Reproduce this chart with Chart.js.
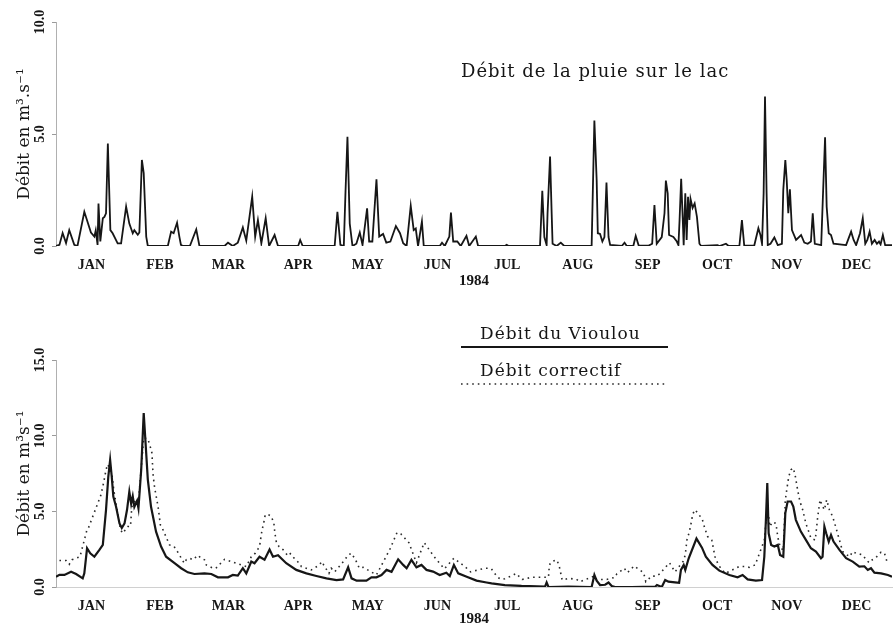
<!DOCTYPE html>
<html><head><meta charset="utf-8">
<script src="https://cdn.jsdelivr.net/npm/chart.js@4.4.1/dist/chart.umd.min.js"></script>
<style>
html,body{margin:0;padding:0;background:#fff;}
#wrap{position:relative;width:894px;height:628px;overflow:hidden;}
.box{position:absolute;left:0;width:894px;}
</style></head><body>
<div id="wrap">
<div class="box" style="top:0;height:300px"><canvas id="topChart" width="894" height="300"></canvas></div>
<div class="box" style="top:300px;height:328px"><canvas id="botChart" width="894" height="328"></canvas></div>
</div>
<script>
// ---------- DATA ----------
const yearLabel = '1984';
const monthNames = ['JAN','FEB','MAR','APR','MAY','JUN','JUL','AUG','SEP','OCT','NOV','DEC'];
const monthLengths = [31,29,31,30,31,30,31,31,30,31,30,31];

const topTitle = 'Débit de la pluie sur le lac';
const topYTitle = 'Débit en m³.s⁻¹';
const topYTicks = [0, 5, 10];
const topYTickLabels = ['0.0', '5.0', '10.0'];

const botYTitle = 'Débit en m³s⁻¹';
const botYTicks = [0, 5, 10, 15];
const botYTickLabels = ['0.0', '5.0', '10.0', '15.0'];

const rainLabel = 'Débit de la pluie sur le lac';
const rainDays = [0,1.5,2.9,4.4,5.8,8,9.4,12.4,15.3,16.8,17.4,18.2,18.6,19.4,20.5,21.2,21.9,22.7,23.8,24.8,27,28.5,30.7,32.1,33.6,34.3,35.8,36.5,37.6,38.4,39.5,40.2,45,49,50.4,51.5,53,54,54.7,55.5,58.6,61.4,62.8,73.8,75.3,77.4,79.6,81.8,83.3,85.9,87.2,88.4,89.9,91.8,93.3,95.7,97.2,106,106.9,108,122,123.2,124.5,126,126.7,127.6,128.6,129.8,131.5,133,134.2,136.2,137.1,138.5,140.3,141.5,143.2,144.6,146.4,148.8,150.6,152,153.5,155.3,156.6,157.5,158.5,160.2,161,168,169,170.2,172.2,172.9,173.9,175.7,177.2,179.7,180.9,183.8,184.8,196.5,197.3,198.2,211.9,212.9,213.8,214.8,215.2,216.3,217,217.4,219.2,221,222.5,234.5,235.7,236.7,237.2,238.2,239.2,240.1,241,241.9,242.6,247.7,248.9,249.9,252.8,253.8,255.1,259.5,261,262,263,265.2,266.4,267,267.8,268.4,270.3,271.8,272.5,273,273.7,274.4,274.8,275.5,276.1,276.7,277.3,277.8,278.7,279.6,280.6,281.7,282.5,289.6,290.5,293.3,294.5,299.2,300.3,301.3,305.7,307.5,308.4,309.1,309.8,310.4,311.1,311.6,312.8,314.5,316,317.8,318.4,319.3,319.9,320.6,321.3,322.2,324,326.2,327.6,329.1,330.5,331.3,332.2,335,335.7,336.7,337.4,338.3,339.3,340.4,345.9,348.1,349.2,350.3,352,353.2,354.3,355.2,356.2,357.2,358.4,359.4,360.3,361,362,363,366];
const rainValues = [0,0.05,0.58,0.13,0.71,0.05,0,1.53,0.6,0.42,0.7,0.05,1.9,0.2,1.24,1.3,1.46,4.58,0.71,0.57,0.12,0.12,1.76,1.0,0.57,0.71,0.5,0.6,3.84,3.25,0.42,0,0,0.02,0.64,0.57,1.04,0.42,0.05,0,0,0.74,0,0,0.15,0,0.15,0.83,0.24,2.2,0.42,1.16,0.12,1.24,0,0.49,0,0,0.27,0,0,1.53,0.05,0,2.28,4.88,1.0,0,0.1,0.6,0.05,1.68,0.2,0.2,2.98,0.42,0.54,0.15,0.2,0.89,0.57,0.12,0,1.79,0.71,0.78,0,1.09,0,0,0.15,0,0.42,1.49,0.2,0.2,0,0.45,0,0.42,0,0,0.05,0,0,2.47,0.4,0.04,1.46,3.99,1.46,0.1,0,0.15,0,0,5.6,2.95,0.57,0.54,0.2,0.4,2.83,0.4,0.05,0,0.15,0,0.02,0.45,0.02,0.02,0.1,1.83,0.1,0.4,1.46,2.92,2.35,0.49,0.4,0.2,0.04,1.16,3.0,1.16,0.04,2.35,0.27,2.2,1.16,2.1,1.7,1.9,1.3,0.1,0,0.04,0,0.1,0,0.02,1.16,0.02,0.02,0.79,0.49,0.1,2.35,6.67,2.35,0.04,0.1,0.38,0.04,0.1,2.5,3.84,2.95,1.46,2.53,0.71,0.27,0.49,0.15,0.1,0.2,1.46,0.1,0.04,2.05,4.85,1.75,0.57,0.49,0.1,0.04,0.64,0.27,0.04,0.57,1.24,0.1,0.27,0.64,0.1,0.27,0.1,0.2,0.07,0.49,0.04,0.04];

const vioulouLabel = 'Débit du Vioulou';
const vioulouDays = [0,1.5,3.7,6.6,8.8,11.7,12.4,13.6,15,16.8,19,20.5,21.9,22.9,23.7,24.4,25.1,26.3,27.8,28.8,30,31.1,32.1,32.9,33.6,34.3,35.5,36.1,37.3,38.4,39.3,40.2,41.6,43.8,46,48.2,51.9,54.8,57.7,60.6,65,68,70.9,75.3,77.4,79.6,81.8,83.3,85.5,86.9,89.1,91.3,93.5,95,97.2,100.8,105.2,109.6,114,118.4,122.8,125.7,127.9,129.4,131.6,135.9,138.1,140.3,142.5,144.7,146.9,149.8,152,153.5,155.6,157.8,160,162.2,165.1,168,170.9,172.4,174.2,176.1,179.8,184.1,188.5,190.7,196.5,203.8,214.1,214.8,215.6,224.3,234.5,235.7,236.7,238.2,240.4,241.9,243.3,244.8,252,262.3,263.1,265.2,266.7,268.1,271,272.8,273.6,274.8,275.5,277,280.4,282.8,284.5,287.4,290.4,294.8,298.4,300.6,302.8,306.4,309.1,310.1,310.8,311.4,312,313.1,314.5,316,317,318.4,319.3,320.3,321.8,322.8,323.9,326.1,328.3,330.5,332.7,334.9,335.6,336.4,337.2,338.3,339.3,340.4,343,345.9,348.8,351.7,353.9,355.4,356.8,358.3,361.2,364.2,366];
const vioulouValues = [0.68,0.8,0.8,1.01,0.86,0.57,0.9,2.56,2.23,2.0,2.45,2.78,5.1,7.3,8.4,7.3,5.98,5.3,4.2,3.9,4.2,5.1,6.3,5.5,6.0,5.3,5.7,5.2,7.75,11.5,9.3,7.1,5.3,3.66,2.67,2.0,1.57,1.24,0.97,0.86,0.9,0.86,0.64,0.64,0.8,0.75,1.24,0.9,1.68,1.57,2.0,1.8,2.48,2.0,2.1,1.57,1.13,0.9,0.73,0.57,0.46,0.5,1.3,0.57,0.42,0.42,0.64,0.64,0.79,1.13,1.0,1.83,1.46,1.24,1.79,1.3,1.46,1.13,1.02,0.79,0.94,0.73,1.46,0.9,0.68,0.42,0.3,0.24,0.13,0.07,0.02,0.3,0,0.02,0,0.8,0.42,0.13,0.15,0.3,0.07,0,0,0.02,0.13,0,0.46,0.35,0.3,0.27,1.13,1.46,1.13,1.9,3.2,2.6,2.0,1.46,1.08,0.79,0.64,0.79,0.5,0.42,0.46,2.0,4.44,6.87,3.55,2.78,2.67,2.78,2.12,2.0,4.88,5.65,5.65,5.32,4.44,3.66,3.11,2.56,2.34,1.9,2.0,4.0,3.55,3.0,3.44,3.0,2.45,1.9,1.68,1.35,1.37,1.13,1.24,0.95,0.9,0.79,0.68];

const correctifLabel = 'Débit correctif';
const correctifDays = [1.5,4.4,5.8,7,10.5,13.6,14.2,19.7,21,21.6,22.5,23.8,24.6,25.3,26.3,28.2,29.2,31.4,32.6,33.2,35.1,36.1,38.4,40.2,41.4,42,42.5,43.2,44.1,44.7,45.7,46.5,49.7,51.6,54.1,55.1,56.3,57,58.5,60,62.1,63.6,65,65.8,68.7,70,73.8,83.3,85.5,87.3,89.1,90.2,90.9,91.6,92.8,94.3,95.4,95.8,96.5,97.7,99.5,101.6,102.6,105.2,106.7,107.4,111.8,114.7,116.6,117.2,119.5,120.5,122,126.4,127.9,129.4,131.3,132.8,134.5,140.3,146.4,149.3,151,154.5,157.8,161.2,165.1,166.1,170,174.2,179,181.5,184,187.8,189.1,190.6,193.3,195,196.5,200.2,201.4,204.1,208.2,212.6,215.6,216,217,219.2,220.2,221.6,224.6,227.9,229.4,235.7,236.7,239.2,241.1,244.8,245.5,247.6,248.8,250.2,251.4,253.1,257.2,257.9,258.2,260.8,263,264.5,266,268.6,271,273.3,274.5,275.5,276.2,277.3,278.2,278.7,279.6,281,283,284,285.3,287.1,288.5,290,291.1,293,299.1,301.3,303.5,306.1,310.1,311.5,312.5,313.7,315.2,316,317,318.4,319.3,319.9,320.8,321.8,322.8,323.7,324.7,325.7,326.9,328.3,329.8,330.5,332.4,333.5,334.5,335.4,336.4,337.4,338.6,340,341.5,343,344.4,347.4,348.8,350.3,353.2,354.7,356.1,357.3,358.7,361.2,362.7,363.8];
const correctifValues = [1.75,1.75,1.5,1.8,2.0,3.8,3.9,6.1,7.0,7.5,8.1,7.8,7.3,6.4,5.5,3.8,3.55,4.0,4.0,5.3,5.8,5.6,9.85,9.8,9.2,8.85,7.4,6.55,5.8,5.3,4.1,3.9,2.78,2.7,2.12,1.8,1.57,1.8,1.9,1.8,2.1,1.9,1.8,1.46,1.24,1.24,1.83,1.35,2.0,2.24,2.67,3.77,4.2,4.77,4.8,4.66,4.2,3.6,2.93,2.66,2.45,2.05,2.2,1.74,1.57,1.35,1.13,1.4,1.68,1.45,0.9,1.24,1.0,1.79,2.12,2.23,1.74,1.24,1.3,0.8,2.56,3.6,3.5,2.93,1.6,2.93,2.1,1.9,1.2,1.9,1.35,1.0,1.1,1.24,1.24,1.2,0.64,0.5,0.55,0.79,0.9,0.5,0.64,0.64,0.64,1.46,1.68,1.79,1.46,0.46,0.57,0.5,0.35,0.72,0.5,0.5,0.5,0.64,0.86,1.1,1.24,0.95,1.13,1.39,0.95,0.57,0.35,0.72,0.72,0.9,1.17,1.6,1.0,1.46,1.68,2.12,3.1,3.66,4.33,4.77,5.1,4.9,4.44,3.9,3.33,3.1,2.0,1.46,1.24,0.9,1.35,1.35,1.3,1.46,3.1,5.32,3.99,4.3,4.2,3.3,2.67,2.4,5.76,6.4,7.3,7.75,7.86,7.3,6.4,5.65,5.1,4.2,3.55,3.22,3.1,4.66,5.76,5.4,5.1,5.76,5.1,4.66,3.9,3.1,2.34,2.0,2.34,2.23,2.12,1.79,1.6,1.79,1.9,2.3,2.23,1.68];

// ---------- helpers ----------
const monthMid = [];
(function(){ let acc = 0; for (const L of monthLengths) { monthMid.push(acc + L / 2); acc += L; } })();
const yearEnd = monthLengths.reduce((a, b) => a + b, 0);
const toXY = (xs, ys) => xs.map((x, i) => ({x: x, y: ys[i]}));

const INK = '#161616';
const SERIF = '"Liberation Serif", "DejaVu Serif", serif';
const TEXTSERIF = '"DejaVu Serif", "Liberation Serif", serif';

function xScaleCfg(h, tickPad, titlePad, showBorder) {
  return {
    type: 'linear', min: 0, max: yearEnd,
    afterBuildTicks: s => { s.ticks = monthMid.map(v => ({value: v})); },
    afterFit: s => { s.height = h; },
    ticks: {
      autoSkip: false, minRotation: 0, maxRotation: 0, padding: tickPad,
      color: INK, font: {family: SERIF, weight: 'bold', size: 14},
      callback: (v, i) => monthNames[i]
    },
    grid: {display: false, drawTicks: false},
    border: {display: showBorder, color: '#d0d0d0', width: 1},
    title: {display: true, text: yearLabel, color: INK,
      font: {family: SERIF, weight: 'bold', size: 15}, padding: {top: 0, bottom: titlePad}}
  };
}

function yScaleCfg(max, ticks, title) {
  return {
    type: 'linear', min: 0, max: max,
    afterBuildTicks: s => { s.ticks = ticks.map(v => ({value: v})); },
    afterFit: s => { s.width = 56; },
    ticks: {display: false},
    grid: {display: true, drawOnChartArea: false, drawTicks: true, tickLength: 4, color: '#9a9a9a', lineWidth: 1},
    border: {display: true, color: '#b0b0b0', dash: [1, 5], width: 1},
    title: {display: true, text: title, color: INK,
      font: {family: TEXTSERIF, size: 17}, padding: {top: 14, bottom: 0}}
  };
}

const yLabelPlugin = {
  id: 'yRotLabels',
  afterDraw(chart, args, opts) {
    const s = chart.scales.y, ctx = chart.ctx;
    ctx.save();
    ctx.font = 'bold 14px ' + SERIF;
    ctx.fillStyle = INK;
    ctx.textAlign = 'center';
    ctx.textBaseline = 'middle';
    s.ticks.forEach((t, i) => {
      const py = s.getPixelForValue(t.value);
      ctx.save();
      ctx.translate(opts.x, py);
      ctx.rotate(-Math.PI / 2);
      ctx.fillText(opts.labels[i], 0, 0);
      ctx.restore();
    });
    ctx.restore();
  }
};

const topTitlePlugin = {
  id: 'topTitle',
  afterDraw(chart, args, opts) {
    const ctx = chart.ctx;
    ctx.save();
    ctx.font = '18px ' + TEXTSERIF;
    if ('letterSpacing' in ctx) ctx.letterSpacing = '1px';
    ctx.fillStyle = INK;
    ctx.textAlign = 'left';
    ctx.textBaseline = 'alphabetic';
    ctx.fillText(opts.text, opts.x, opts.y);
    ctx.restore();
  }
};

const stackLegendPlugin = {
  id: 'stackLegend',
  afterDraw(chart, args, opts) {
    const ctx = chart.ctx;
    chart.data.datasets.forEach((ds, i) => {
      const ty = opts.y0 + i * opts.step;
      ctx.save();
      ctx.font = '17px ' + TEXTSERIF;
      if ('letterSpacing' in ctx) ctx.letterSpacing = '1px';
      ctx.fillStyle = INK;
      ctx.textAlign = 'left';
      ctx.textBaseline = 'alphabetic';
      ctx.fillText(ds.label, opts.textX, ty);
      ctx.restore();
      ctx.save();
      ctx.beginPath();
      ctx.strokeStyle = ds.borderColor;
      ctx.lineWidth = ds.borderWidth;
      ctx.setLineDash(ds.borderDash || []);
      ctx.moveTo(opts.x1, ty + opts.lineGap);
      ctx.lineTo(opts.x2, ty + opts.lineGap);
      ctx.stroke();
      ctx.restore();
    });
  }
};

const common = {
  responsive: false,
  animation: false,
  devicePixelRatio: 1,
  events: [],
  elements: {point: {radius: 0}, line: {tension: 0}},
};

new Chart(document.getElementById('topChart'), {
  type: 'line',
  data: {datasets: [{
    label: rainLabel, data: toXY(rainDays, rainValues),
    borderColor: INK, borderWidth: 1.8, fill: false
  }]},
  options: Object.assign({}, common, {
    layout: {padding: {top: 22, right: 2, left: 0, bottom: 0}},
    scales: {x: xScaleCfg(54, 11, 10, false), y: yScaleCfg(10, topYTicks, topYTitle)},
    plugins: {
      legend: {display: false}, tooltip: {enabled: false}, title: {display: false},
      yRotLabels: {x: 40, labels: topYTickLabels},
      topTitle: {text: topTitle, x: 461, y: 77}
    }
  }),
  plugins: [yLabelPlugin, topTitlePlugin]
});

new Chart(document.getElementById('botChart'), {
  type: 'line',
  data: {datasets: [
    {label: vioulouLabel, data: toXY(vioulouDays, vioulouValues),
     borderColor: INK, borderWidth: 2.2, fill: false},
    {label: correctifLabel, data: toXY(correctifDays, correctifValues),
     borderColor: '#2a2a2a', borderWidth: 1.6, borderDash: [1.6, 4], fill: false}
  ]},
  options: Object.assign({}, common, {
    layout: {padding: {top: 60, right: 2, left: 0, bottom: 0}},
    scales: {x: xScaleCfg(41, 11, 0, true), y: yScaleCfg(15, botYTicks, botYTitle)},
    plugins: {
      legend: {display: false}, tooltip: {enabled: false}, title: {display: false},
      yRotLabels: {x: 40, labels: botYTickLabels},
      stackLegend: {textX: 480, y0: 39, step: 37, lineGap: 8, x1: 461, x2: 668}
    }
  }),
  plugins: [yLabelPlugin, stackLegendPlugin]
});
</script>
</body></html>
